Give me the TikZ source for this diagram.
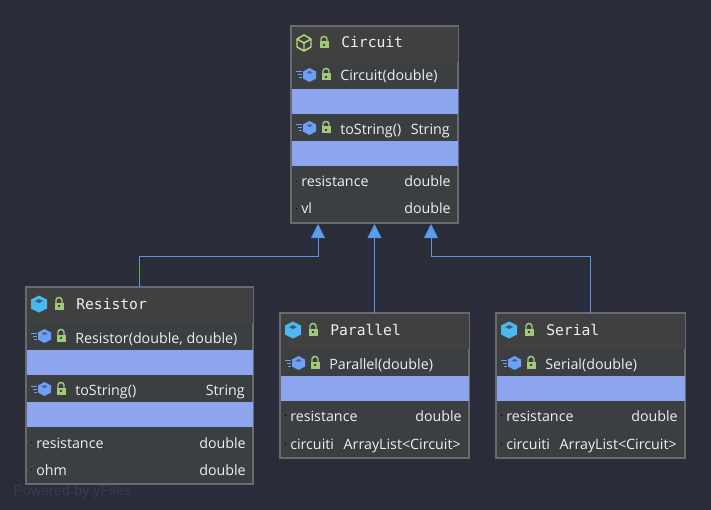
\documentclass[tikz,border=0pt]{standalone}
\usepackage{fontspec}
\setmainfont{Open Sans}
\newfontfamily\headfont{DejaVu Sans Mono}
\newfontfamily\markfont{Liberation Sans}
\usetikzlibrary{arrows.meta}
\definecolor{canvasbg}{RGB}{41,44,57}
\definecolor{boxfill}{RGB}{60,63,65}
\definecolor{headfill}{RGB}{64,64,64}
\definecolor{boxedge}{RGB}{104,107,110}
\definecolor{bandblue}{RGB}{140,165,238}
\definecolor{edgeblue}{RGB}{88,150,225}
\definecolor{tipblue}{RGB}{88,157,246}
\definecolor{labelwhite}{RGB}{236,240,242}
\definecolor{lockgreen}{RGB}{164,200,122}
\definecolor{cubegreen}{RGB}{184,216,136}
\definecolor{cubecyan}{RGB}{76,184,240}
\definecolor{methodblue}{RGB}{108,160,245}
\definecolor{markgrey}{RGB}{58,61,72}
\tikzset{
  class box/.style={
    rectangle, draw=boxedge, line width=1.1pt, fill=boxfill,
    anchor=north west, inner sep=0pt, outer sep=0pt
  },
  px size/.style 2 args={minimum width=#1*0.75pt, minimum height=#2*0.75pt},
  head band/.style={rectangle, fill=headfill, anchor=north west, inner sep=0pt},
  blue band/.style={rectangle, fill=bandblue, anchor=north west, inner sep=0pt},
  class name/.style={anchor=base west, inner sep=0pt, text=labelwhite, font=\headfont\fontsize{11}{13}\selectfont},
  member/.style={anchor=base west, inner sep=0pt, text=labelwhite, font=\fontsize{10.7}{13}\selectfont},
  member type/.style={anchor=base east, inner sep=0pt, text=labelwhite, font=\fontsize{10.7}{13}\selectfont},
  field dot/.style={rectangle, fill=black, inner sep=0pt, minimum size=0.75pt},
  inherit arrow/.style={-{Triangle[length=10.5pt,width=10.5pt,fill=tipblue]}, line width=0.75pt, edgeblue},
  lockicon/.pic={
    \draw[lockgreen, line width=1.1pt] (-3,-1) -- (-3,-4) arc[start angle=180, end angle=0, x radius=3, y radius=-2.5] -- (3,-1);
    \fill[lockgreen] (-4.5,-1.5) rectangle (4.5,5.5);
    \fill[boxfill] (-0.8,1) rectangle (0.8,2.6);
  },
  cubeline/.pic={
    \draw[cubegreen, line width=1.1pt, line join=round]
      (0,-8) -- (7,-4) -- (7,4) -- (0,8) -- (-7,4) -- (-7,-4) -- cycle
      (-7,-4) -- (0,0) -- (7,-4) (0,0) -- (0,8);
  },
  cubesolid/.pic={
    \fill[cubecyan] (0,-8.5) -- (8,-4.5) -- (8,4.5) -- (0,8.5) -- (-8,4.5) -- (-8,-4.5) -- cycle;
    \fill[boxfill!75!cubecyan] (0,-5) -- (4,-3) -- (0,-1) -- (-4,-3) -- cycle;
  },
  methodicon/.pic={
    \fill[methodblue] (0,-7) -- (6.5,-3.5) -- (6.5,3.5) -- (0,7) -- (-6.5,3.5) -- (-6.5,-3.5) -- cycle;
    \fill[boxfill!60!methodblue] (0,-4) -- (3,-2.5) -- (0,-1) -- (-3,-2.5) -- cycle;
    \draw[methodblue, line width=0.75pt] (-13.5,-3) -- (-8,-3) (-12,0) -- (-8,0) (-10.5,3) -- (-8,3);
  }
}
\begin{document}
\begin{tikzpicture}[x=0.75pt,y=-0.75pt]
  \fill[canvasbg] (0,0) rectangle (711,510);
  \useasboundingbox (0,0) rectangle (711,510);
  \node[anchor=base west, inner sep=0pt, text=markgrey, font=\markfont\fontsize{10.8}{13}\selectfont] (watermark) at (13,495) {Powered by yFiles};

  % Circuit
  \node[class box, px size={167}{197}] (circuit) at (291,26) {};
  \node[head band, px size={166}{35}] (circuithead) at (291.5,26.5) {};
  \node[blue band, px size={166}{25}] (circuitbandone) at (291.5,89) {};
  \node[blue band, px size={166}{25}] (circuitbandtwo) at (291.5,141) {};
  \pic at (304,43) {cubeline};
  \pic at (324,43) {lockicon};
  \node[class name] (circuitname) at (341,48) {Circuit};
  \pic at (309.5,75) {methodicon};
  \pic at (326,75) {lockicon};
  \node[member] (circuitctor) at (340,81) {Circuit(double)};
  \pic at (309.5,128) {methodicon};
  \pic at (326,128) {lockicon};
  \node[member] (circuitstring) at (340,134) {toString()};
  \node[member type] (circuitstringtype) at (450,134) {String};
  \node[field dot] (circuitdotone) at (296,181) {};
  \node[member] (circuitres) at (301,186) {resistance};
  \node[member type] (circuitrestype) at (451,186) {double};
  \node[field dot] (circuitdottwo) at (296,208) {};
  \node[member] (circuitvl) at (301,214) {vl};
  \node[member type] (circuitvltype) at (451,214) {double};

  % Resistor
  \node[class box, px size={227}{197}] (resistor) at (26,287) {};
  \node[head band, px size={226}{35}] (resistorhead) at (26.5,287.5) {};
  \node[blue band, px size={226}{25}] (resistorbandone) at (26.5,350) {};
  \node[blue band, px size={226}{25}] (resistorbandtwo) at (26.5,402) {};
  \pic at (39,304) {cubesolid};
  \pic at (59,304) {lockicon};
  \node[class name] (resistorname) at (76,309) {Resistor};
  \pic at (44.5,336) {methodicon};
  \pic at (61,336) {lockicon};
  \node[member] (resistorctor) at (75,343) {Resistor(double, double)};
  \pic at (44.5,389) {methodicon};
  \pic at (61,389) {lockicon};
  \node[member] (resistorstring) at (75,395) {toString()};
  \node[member type] (resistorstringtype) at (245,395) {String};
  \node[field dot] (resistordotone) at (31,442) {};
  \node[member] (resistorres) at (36,448) {resistance};
  \node[member type] (resistorrestype) at (246,448) {double};
  \node[field dot] (resistordottwo) at (31,469) {};
  \node[member] (resistorohm) at (36,475) {ohm};
  \node[member type] (resistorohmtype) at (246,475) {double};

  % Parallel
  \node[class box, px size={189}{145}] (parallel) at (280,313) {};
  \node[head band, px size={188}{35}] (parallelhead) at (280.5,313.5) {};
  \node[blue band, px size={188}{25}] (parallelband) at (280.5,376) {};
  \pic at (293,330) {cubesolid};
  \pic at (313,330) {lockicon};
  \node[class name] (parallelname) at (330,335) {Parallel};
  \pic at (298.5,363) {methodicon};
  \pic at (315,363) {lockicon};
  \node[member] (parallelctor) at (329,369) {Parallel(double)};
  \node[field dot] (paralleldotone) at (285,415) {};
  \node[member] (parallelres) at (290,421) {resistance};
  \node[member type] (parallelrestype) at (462,421) {double};
  \node[field dot] (paralleldottwo) at (285,443) {};
  \node[member] (parallelcirc) at (290,449) {circuiti};
  \node[member type] (parallelcirctype) at (461,449) {ArrayList<Circuit>};

  % Serial
  \node[class box, px size={189}{145}] (serial) at (496,313) {};
  \node[head band, px size={188}{35}] (serialhead) at (496.5,313.5) {};
  \node[blue band, px size={188}{25}] (serialband) at (496.5,376) {};
  \pic at (509,330) {cubesolid};
  \pic at (529,330) {lockicon};
  \node[class name] (serialname) at (546,335) {Serial};
  \pic at (514.5,363) {methodicon};
  \pic at (531,363) {lockicon};
  \node[member] (serialctor) at (545,369) {Serial(double)};
  \node[field dot] (serialdotone) at (501,415) {};
  \node[member] (serialres) at (506,421) {resistance};
  \node[member type] (serialrestype) at (678,421) {double};
  \node[field dot] (serialdottwo) at (501,443) {};
  \node[member] (serialcirc) at (506,449) {circuiti};
  \node[member type] (serialcirctype) at (677,449) {ArrayList<Circuit>};

  % inheritance
  \coordinate (inresistor) at (318,224);
  \coordinate (inparallel) at (374.5,224);
  \coordinate (inserial) at (431,224);
  \coordinate (elbowresistor) at (318,256);
  \coordinate (elbowserial) at (431,256);
  \draw[inherit arrow] (resistor.north) |- (elbowresistor) -- (inresistor);
  \draw[inherit arrow] (parallel.north) -- (inparallel);
  \draw[inherit arrow] (serial.north) |- (elbowserial) -- (inserial);
\end{tikzpicture}
\end{document}
